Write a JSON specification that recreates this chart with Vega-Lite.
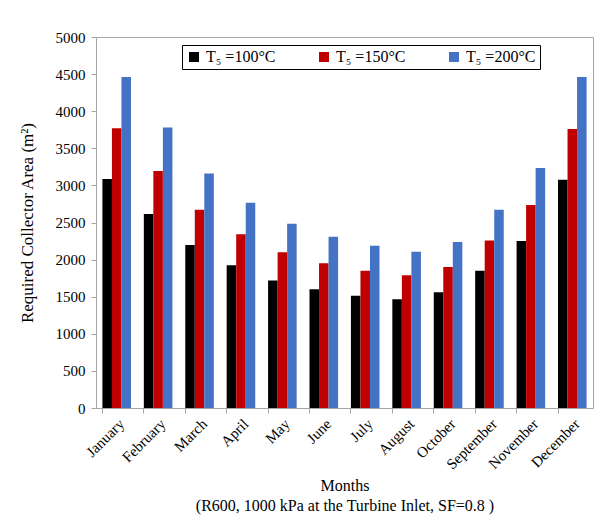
{
  "$schema": "https://vega.github.io/schema/vega-lite/v6.json",
  "width": 497,
  "height": 371,
  "autosize": {"type": "none"},
  "padding": {"left": 96, "top": 37, "right": 8, "bottom": 120},
  "background": "white",
  "config": {
    "font": "Liberation Serif",
    "view": {"stroke": "#a6a6a6", "strokeWidth": 1},
    "axis": {"domainColor": "#a6a6a6", "tickColor": "#a6a6a6", "labelColor": "#000", "titleColor": "#000", "labelFont": "Liberation Serif", "titleFont": "Liberation Serif", "titleFontWeight": "normal"}
  },
  "data": {
    "values": [
      {"month": "January", "series": "T₅ =100°C", "area": 3086},
      {"month": "January", "series": "T₅ =150°C", "area": 3769},
      {"month": "January", "series": "T₅ =200°C", "area": 4461},
      {"month": "February", "series": "T₅ =100°C", "area": 2614},
      {"month": "February", "series": "T₅ =150°C", "area": 3194},
      {"month": "February", "series": "T₅ =200°C", "area": 3782},
      {"month": "March", "series": "T₅ =100°C", "area": 2197},
      {"month": "March", "series": "T₅ =150°C", "area": 2673},
      {"month": "March", "series": "T₅ =200°C", "area": 3162},
      {"month": "April", "series": "T₅ =100°C", "area": 1923},
      {"month": "April", "series": "T₅ =150°C", "area": 2340},
      {"month": "April", "series": "T₅ =200°C", "area": 2767},
      {"month": "May", "series": "T₅ =100°C", "area": 1720},
      {"month": "May", "series": "T₅ =150°C", "area": 2098},
      {"month": "May", "series": "T₅ =200°C", "area": 2484},
      {"month": "June", "series": "T₅ =100°C", "area": 1599},
      {"month": "June", "series": "T₅ =150°C", "area": 1950},
      {"month": "June", "series": "T₅ =200°C", "area": 2309},
      {"month": "July", "series": "T₅ =100°C", "area": 1514},
      {"month": "July", "series": "T₅ =150°C", "area": 1851},
      {"month": "July", "series": "T₅ =200°C", "area": 2188},
      {"month": "August", "series": "T₅ =100°C", "area": 1464},
      {"month": "August", "series": "T₅ =150°C", "area": 1788},
      {"month": "August", "series": "T₅ =200°C", "area": 2107},
      {"month": "October", "series": "T₅ =100°C", "area": 1559},
      {"month": "October", "series": "T₅ =150°C", "area": 1900},
      {"month": "October", "series": "T₅ =200°C", "area": 2237},
      {"month": "September", "series": "T₅ =100°C", "area": 1851},
      {"month": "September", "series": "T₅ =150°C", "area": 2259},
      {"month": "September", "series": "T₅ =200°C", "area": 2673},
      {"month": "November", "series": "T₅ =100°C", "area": 2250},
      {"month": "November", "series": "T₅ =150°C", "area": 2736},
      {"month": "November", "series": "T₅ =200°C", "area": 3234},
      {"month": "December", "series": "T₅ =100°C", "area": 3077},
      {"month": "December", "series": "T₅ =150°C", "area": 3760},
      {"month": "December", "series": "T₅ =200°C", "area": 4461}
    ]
  },
  "mark": {"type": "bar"},
  "encoding": {
    "x": {
      "field": "month",
      "type": "nominal",
      "sort": ["January", "February", "March", "April", "May", "June", "July", "August", "October", "September", "November", "December"],
      "scale": {"paddingInner": 0.31, "paddingOuter": 0.155},
      "axis": {
        "labelAngle": -45,
        "labelFontSize": 15,
        "bandPosition": 0,
        "tickSize": 5,
        "labelPadding": 3,
        "title": ["Months", "(R600, 1000 kPa at the Turbine Inlet, SF=0.8 )"],
        "titleFontSize": 16,
        "titlePadding": 6,
        "titleLineHeight": 20
      }
    },
    "xOffset": {
      "field": "series",
      "type": "nominal",
      "scale": {"paddingInner": 0, "paddingOuter": 0}
    },
    "y": {
      "field": "area",
      "type": "quantitative",
      "scale": {"domain": [0, 5000], "nice": false},
      "axis": {
        "values": [0, 500, 1000, 1500, 2000, 2500, 3000, 3500, 4000, 4500, 5000],
        "format": "d",
        "grid": false,
        "tickSize": 5,
        "labelFontSize": 15,
        "labelPadding": 6,
        "title": "Required Collector Area (m²)",
        "titleFontSize": 17,
        "titlePadding": 19
      }
    },
    "color": {
      "field": "series",
      "type": "nominal",
      "scale": {"domain": ["T₅ =100°C", "T₅ =150°C", "T₅ =200°C"], "range": ["#000000", "#C00000", "#4472C4"]},
      "legend": {
        "title": null,
        "orient": "none",
        "legendX": 86,
        "legendY": 8,
        "direction": "horizontal",
        "symbolType": "square",
        "symbolSize": 100,
        "symbolStrokeWidth": 0,
        "labelFontSize": 16,
        "labelFont": "Liberation Serif",
        "labelOffset": 4,
        "columnPadding": 40,
        "strokeColor": "#000000",
        "padding": 4,
        "offset": 0
      }
    }
  }
}
